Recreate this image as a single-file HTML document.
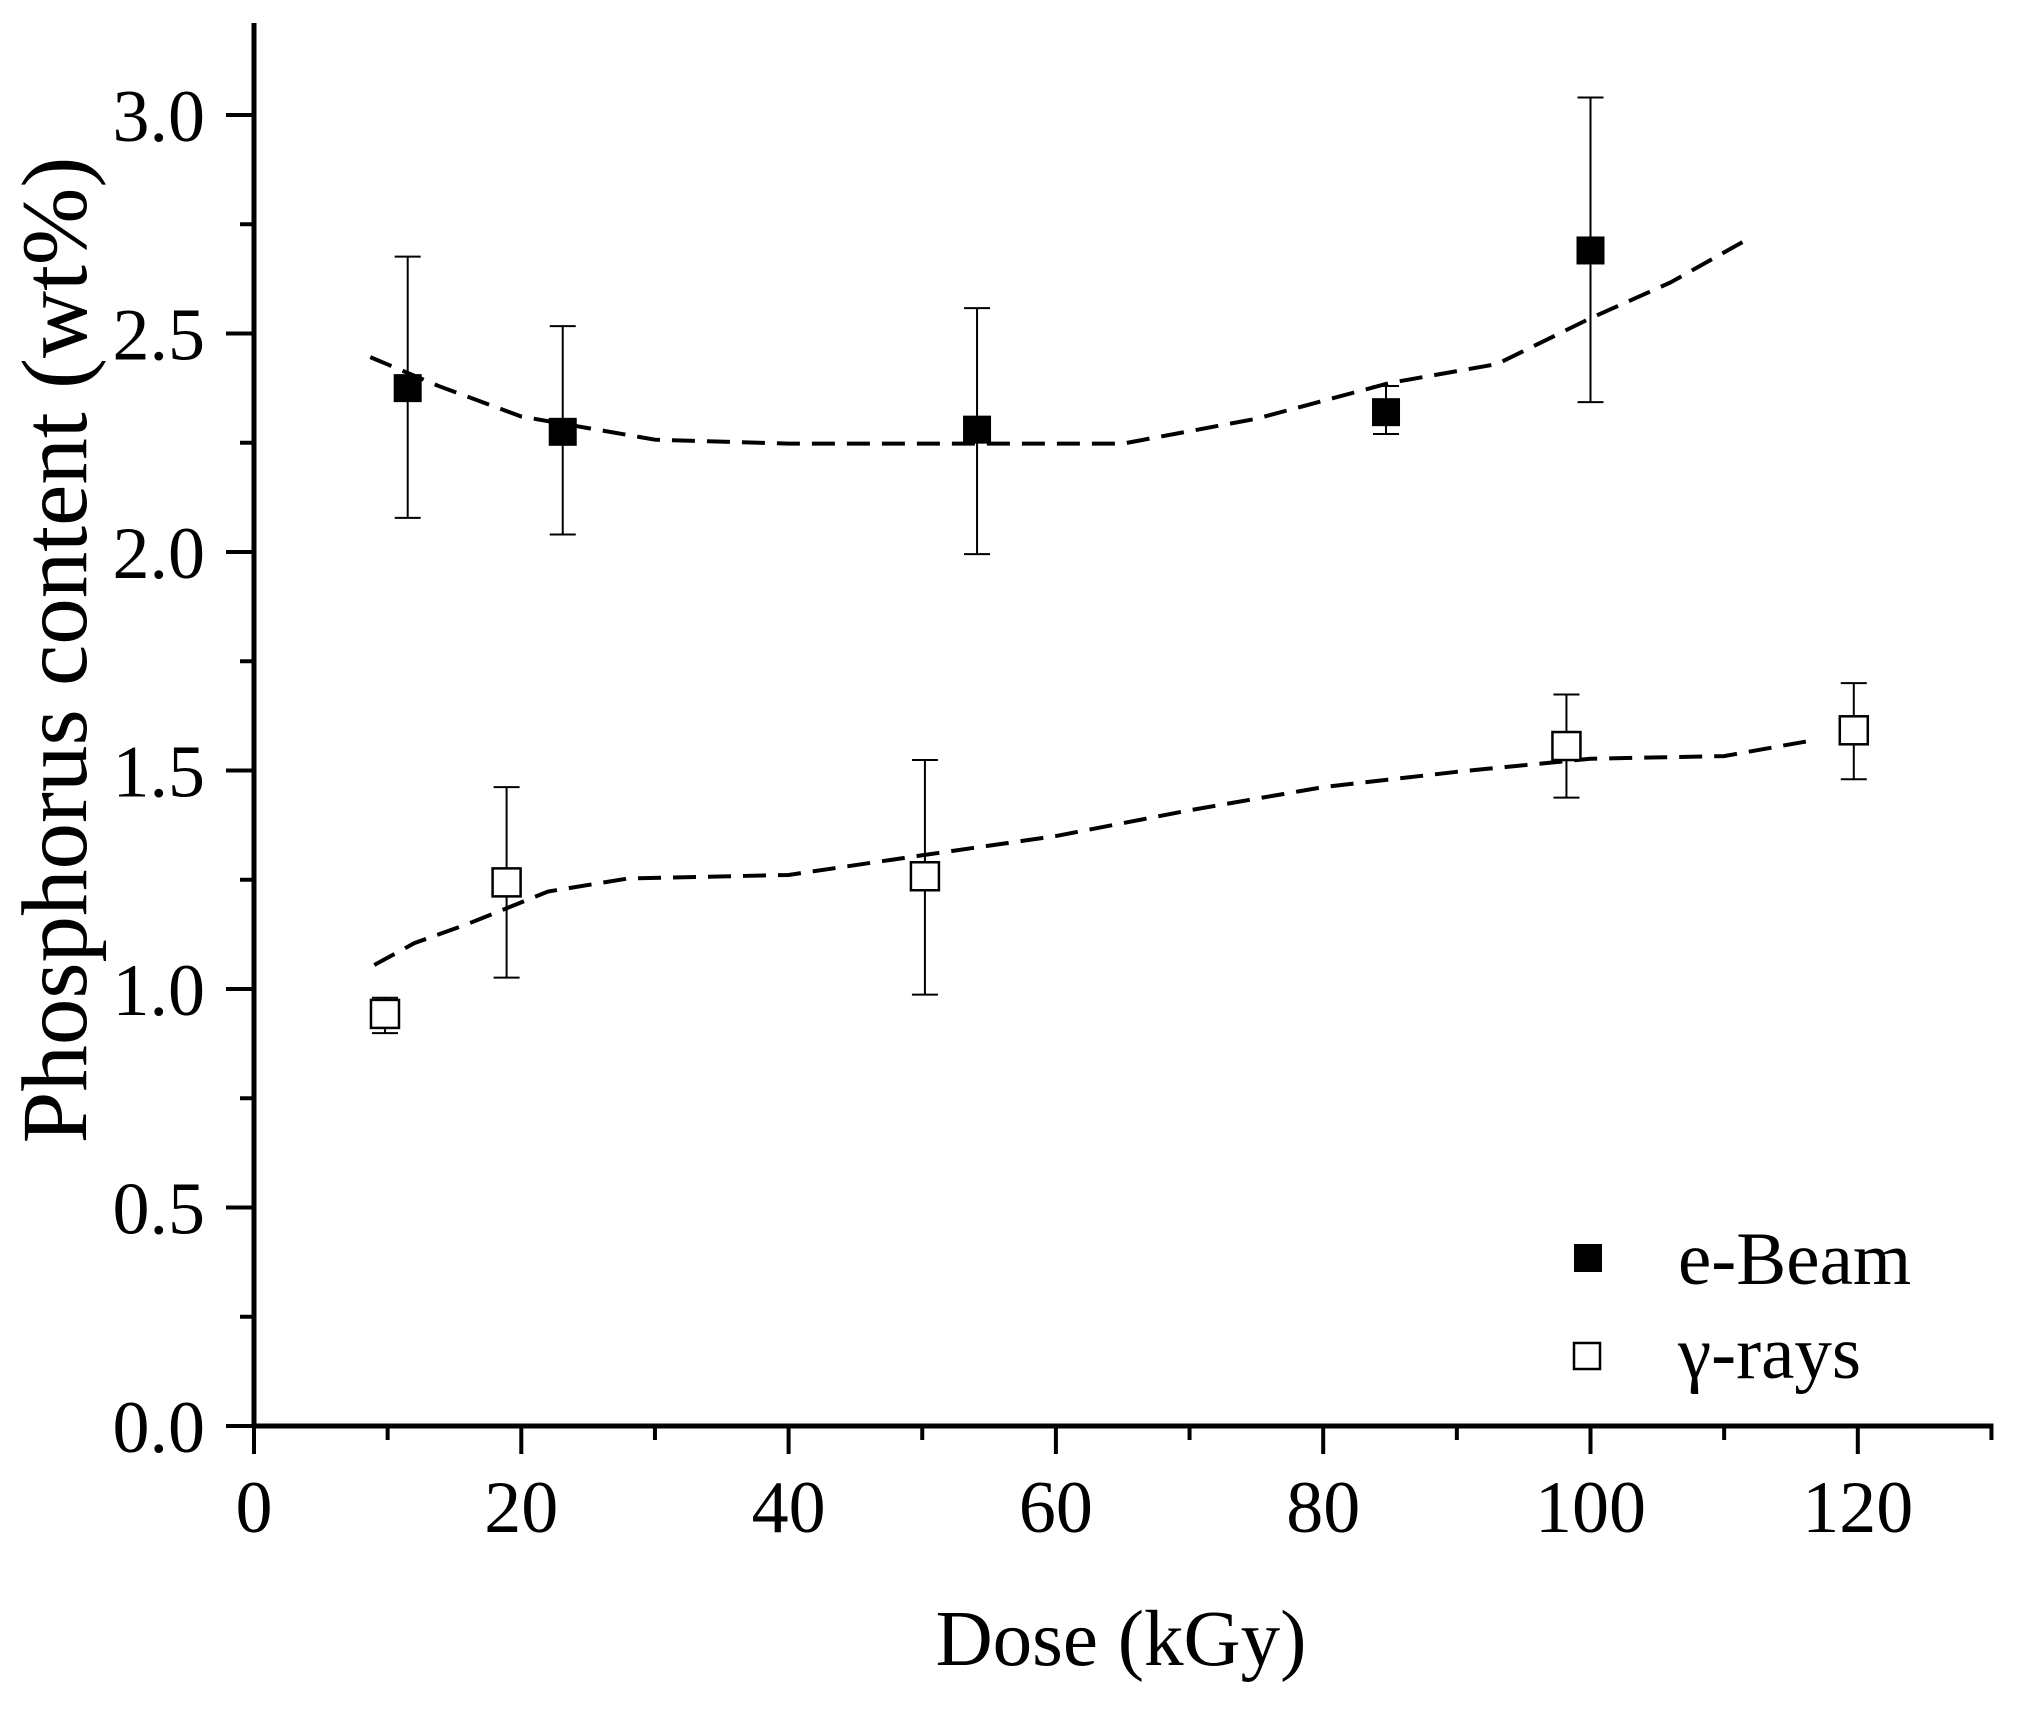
<!DOCTYPE html>
<html><head><meta charset="utf-8"><style>
html,body{margin:0;padding:0;background:#fff;}
svg{display:block;font-family:"Liberation Serif",serif;}
</style></head><body>
<svg id="chart" width="2019" height="1710" viewBox="0 0 2019 1710" xmlns="http://www.w3.org/2000/svg">
<text x="1121" y="1665" font-size="79" text-anchor="middle">Dose (kGy)</text>
<text transform="translate(86,650) rotate(-90)" font-size="93" text-anchor="middle">Phosphorus content (wt%)</text>
<g>
<rect x="1574" y="1244" width="28" height="28" fill="#000"/>
<text x="1678" y="1284" font-size="75">e-Beam</text>
<rect x="1574" y="1343" width="26" height="26" fill="#fff" stroke="#000" stroke-width="2.5"/>
<text x="1678" y="1378" font-size="75">γ-rays</text>
</g>
</svg>
<script>
const ebX=[11.5,23.1,54.1,84.7,100];
const ebY=[2.375,2.275,2.28,2.32,2.69];
const ebHi=[2.676,2.517,2.558,2.38,3.04];
const ebLo=[2.078,2.04,1.995,2.27,2.343];
const gX=[9.8,18.9,50.2,98.2,119.7];
const gY=[0.943,1.244,1.258,1.556,1.592];
const gHi=[0.98,1.462,1.524,1.674,1.70];
const gLo=[0.899,1.026,0.987,1.438,1.48];
const ebFitX=[8.7,13.8,20,30,40,50,65,75,85,93,100,106,112];
const ebFitY=[2.446,2.38,2.31,2.257,2.248,2.248,2.248,2.305,2.387,2.43,2.535,2.617,2.72];
const gFitX=[9,12,16,22,28,40,50,60,70,80,90,100,110,117];
const gFitY=[1.055,1.105,1.149,1.223,1.253,1.261,1.306,1.35,1.409,1.462,1.497,1.527,1.533,1.571];
const xTicks=[0,20,40,60,80,100,120];
const yTicks=[0.0,0.5,1.0,1.5,2.0,2.5,3.0];

const NS="http://www.w3.org/2000/svg";
const svg=document.getElementById('chart');
const X0=254,XS=13.365,Y0=1426,YS=437;
const sx=v=>X0+v*XS, sy=v=>Y0-v*YS;
function mk(t,a,p){const e=document.createElementNS(NS,t);for(const k in a)e.setAttribute(k,a[k]);(p||svg).appendChild(e);return e;}
let ax=mk('line',{x1:X0,y1:Y0,x2:X0,y2:23,stroke:'#000','stroke-width':5});


ax=mk('line',{x1:X0-2,y1:Y0,x2:sx(130)+2,y2:Y0,stroke:'#000','stroke-width':5});


for(let v=0;v<=130;v+=10){
  const major=v%20===0;
  const t=mk('line',{x1:sx(v),y1:Y0,x2:sx(v),y2:Y0+(major?28:14),stroke:'#000','stroke-width':4});
  
  
}
xTicks.forEach(v=>{const t=mk('text',{x:sx(v),y:1532,'font-size':74,'text-anchor':'middle'});t.textContent=String(v);
  
  });
for(let i=0;i<=12;i++){const v=i*0.25;const major=i%2===0;
  const t=mk('line',{x1:X0,y1:sy(v),x2:X0-(major?28:14),y2:sy(v),stroke:'#000','stroke-width':4});
  
  }
yTicks.forEach(v=>{const t=mk('text',{x:205,y:sy(v)+26,'font-size':74,'text-anchor':'end'});t.textContent=v.toFixed(1);
  
  });
function fit(xs,ys,name){const d=xs.map((x,i)=>(i?'L':'M')+sx(x)+' '+sy(ys[i])).join(' ');
  const p=mk('path',{d:d,fill:'none',stroke:'#000','stroke-width':4,'stroke-dasharray':'23 12'});
  
  }
fit(ebFitX,ebFitY,'ebeam-fit-line');
fit(gFitX,gFitY,'gamma-fit-line');
function series(xs,ys,hi,lo,filled,name){
  xs.forEach((x,i)=>{const cx=sx(x);
    const e=mk('path',{d:`M${cx} ${sy(hi[i])}V${sy(lo[i])}M${cx-13} ${sy(hi[i])}H${cx+13}M${cx-13} ${sy(lo[i])}H${cx+13}`,stroke:'#000','stroke-width':2,fill:'none'});
    
    
    const m=mk('rect',{x:cx-14,y:sy(ys[i])-14,width:28,height:28,fill:filled?'#000':'#fff',stroke:'#000','stroke-width':filled?0:2.5});
    
    
  });}
series(ebX,ebY,ebHi,ebLo,true,'ebeam');
series(gX,gY,gHi,gLo,false,'gamma');
</script>
</body></html>
